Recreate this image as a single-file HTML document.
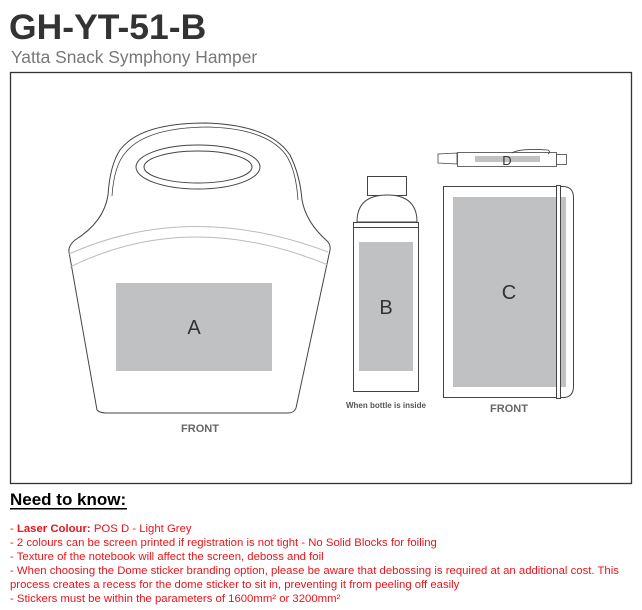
<!DOCTYPE html>
<html><head><meta charset="utf-8"><style>
body{margin:0;background:#fff;width:642px;height:610px;overflow:hidden;font-family:"Liberation Sans",sans-serif}
</style></head><body>
<svg width="642" height="610" xmlns="http://www.w3.org/2000/svg" style="position:absolute;left:0;top:0">
<text x="9" y="39" font-family="Liberation Sans" font-weight="bold" font-size="35.5" fill="#333">GH-YT-51-B</text>
<text x="11" y="63" font-family="Liberation Sans" font-size="17.4" fill="#777">Yatta Snack Symphony Hamper</text>
<rect x="10.5" y="72.5" width="621" height="411" fill="none" stroke="#333" stroke-width="1.3"/>
<!-- bag -->
<g fill="none" stroke="#444" stroke-width="1">
<path d="M97,410 Q100,413 106,413 L288,413 Q294,413 296,408 L330,250 Q331,244 326,240 Q306,222 302,200 Q300,175 290,155 Q270,125 206,123 Q140,123 120,150 Q110,165 108,195 Q104,222 75,240 Q68,246 69,252 Z" fill="#fff"/>
<path d="M112,196 Q114,165 126,152 Q146,128 206,127 Q266,128 286,155 Q296,170 298,200" stroke-width="0.8"/>
<ellipse cx="198" cy="167" rx="62" ry="22"/>
<ellipse cx="198" cy="167" rx="54" ry="16"/>
<path d="M69,254 Q190,200 328,252" stroke="#bbb"/>
<path d="M70,267 Q190,208 328,265" stroke="#bbb"/>
</g>
<rect x="116" y="283" width="156" height="88" fill="#c0c1c3"/>
<text x="194" y="334" font-size="20" fill="#333" text-anchor="middle">A</text>
<text x="200" y="432" font-size="11" font-weight="bold" fill="#666" text-anchor="middle">FRONT</text>
<!-- bottle -->
<g fill="#fff" stroke="#444" stroke-width="1">
<rect x="367.5" y="176.5" width="39" height="19"/>
<path d="M357,222 Q357,195 387,195 Q417,195 417,222 Z"/>
<rect x="353.5" y="222.5" width="65" height="5"/>
<rect x="353.5" y="227.5" width="65" height="164"/>
</g>
<rect x="359" y="242" width="54" height="129" fill="#c0c1c3"/>
<text x="386" y="314" font-size="20" fill="#333" text-anchor="middle">B</text>
<text x="386" y="408" font-size="8" font-weight="bold" fill="#555" text-anchor="middle">When bottle is inside</text>
<!-- pen -->
<g fill="#fff" stroke="#444" stroke-width="0.8">
<path d="M438,154 L457,153 L457,164 L438,163 Z"/>
<rect x="457.5" y="152.5" width="99" height="14"/>
<rect x="556.5" y="154.5" width="10" height="10"/>
<path d="M512,153 Q520,148 548,150 Q551,152 548,154" fill="none"/>
</g>
<rect x="475" y="156" width="65" height="6" fill="#c0c1c3"/>
<text x="507" y="165" font-size="13" fill="#333" text-anchor="middle">D</text>
<!-- notebook -->
<g fill="#fff" stroke="#444" stroke-width="1">
<path d="M443.5,186.5 L563,186.5 Q573.5,186.5 573.5,198 L573.5,386 Q573.5,397.5 563,397.5 L443.5,397.5 Z"/>
</g>
<rect x="453" y="197" width="113" height="190" fill="#c0c1c3"/>
<rect x="556.5" y="185.5" width="4" height="213" fill="#fff" stroke="#444" stroke-width="1"/>
<text x="509" y="299" font-size="20" fill="#333" text-anchor="middle">C</text>
<text x="509" y="412" font-size="11" font-weight="bold" fill="#666" text-anchor="middle">FRONT</text>
<!-- notes -->
<text x="10" y="505" font-size="17" font-weight="bold" fill="#000">Need to know:</text>
<rect x="10" y="508" width="117" height="1.5" fill="#000"/>
<g font-size="11.35" fill="#e8141b">
<text x="10" y="532">- <tspan font-weight="bold">Laser Colour:</tspan> POS D - Light Grey</text>
<text x="10" y="546">- 2 colours can be screen printed if registration is not tight - No Solid Blocks for foiling</text>
<text x="10" y="560">- Texture of the notebook will affect the screen, deboss and foil</text>
<text x="10" y="574">- When choosing the Dome sticker branding option, please be aware that debossing is required at an additional cost. This</text>
<text x="10" y="588">process creates a recess for the dome sticker to sit in, preventing it from peeling off easily</text>
<text x="10" y="602">- Stickers must be within the parameters of 1600mm² or 3200mm²</text>
</g>
</svg>
</body></html>
